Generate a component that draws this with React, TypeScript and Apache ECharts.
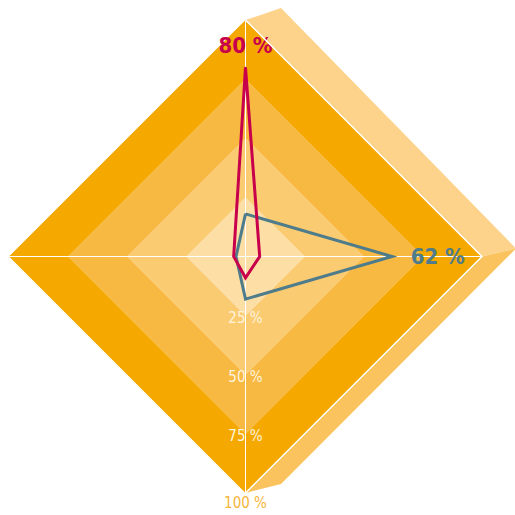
import React, { useEffect, useRef } from "react";
import * as echarts from "echarts";

// Indicators in ECharts order (counter-clockwise from the top): top, left, bottom, right
const indicatorNames = ["A", "B", "C", "D"];
const indicatorMax = [100, 100, 100, 100];
const tickValues = [0, 25, 50, 75, 100];

const seriesRedName = "Rot";
const seriesRedValues = [80, 5, 9, 6];
const seriesGreyName = "Grau";
const seriesGreyValues = [18, 4, 18, 62];

const FONT = '"DejaVu Sans Condensed", "Liberation Sans Narrow", "Roboto", sans-serif';

const CX = 245.5;
const CY = 256.5;
const RAD = 236.5;

export default function App() {
  const ref = useRef<HTMLDivElement>(null);

  useEffect(() => {
    if (!ref.current) return;
    const chart = echarts.init(ref.current, undefined, { renderer: "svg" });

    const T = [CX, CY - RAD];
    const R = [CX + RAD, CY];
    const B = [CX, CY + RAD];
    const T2 = [T[0] + 35.5, T[1] - 12];
    const R2 = [R[0] + 34, R[1] - 8];
    const B2 = [B[0] + 35.5, B[1] - 9];

    const option: any = {
      animation: false,
      backgroundColor: "#ffffff",
      graphic: [
        {
          type: "polygon",
          z: -10,
          shape: { points: [T, T2, R2, R] },
          style: { fill: "#FDD38B" },
          silent: true,
        },
        {
          type: "polygon",
          z: -10,
          shape: { points: [R, R2, B2, B] },
          style: { fill: "#FBC35D" },
          silent: true,
        },
        {
          type: "polyline",
          z: 5,
          shape: { points: [T, R, B] },
          style: { stroke: "#ffffff", lineWidth: 1.5, fill: null },
          silent: true,
        },
      ],
      radar: {
        center: [CX, CY],
        radius: RAD,
        startAngle: 90,
        shape: "polygon",
        splitNumber: tickValues.length - 1,
        axisName: { show: false },
        axisLine: { show: true, lineStyle: { color: "#ffffff", width: 1 } },
        axisTick: { show: false },
        axisLabel: { show: false },
        splitLine: { show: false },
        splitArea: {
          show: true,
          areaStyle: { color: ["#FDDFA6", "#FBCB72", "#F8B942", "#F5A900"] },
        },
        indicator: indicatorNames.map((n, i) => {
          const ind: any = { name: n, min: 0, max: indicatorMax[i] };
          if (i === 2) {
            ind.axisLabel = {
              show: true,
              margin: 0,
              align: "center",
              verticalAlign: "middle",
              color: "#FFF4DC",
              fontFamily: FONT,
              fontSize: 15,
              showMinLabel: false,
              formatter: (v: number) =>
                v === 0 ? "" : v === 100 ? `{o|${v} %}` : `{w|${v} %}`,
              rich: {
                w: { color: "#FFF4DC", fontFamily: FONT, fontSize: 15, padding: [5, 0, 0, 0] },
                o: { color: "#F6B53A", fontFamily: FONT, fontSize: 15, padding: [20, 0, 0, 0] },
              },
            };
          }
          return ind;
        }),
      },
      series: [
        {
          type: "radar",
          z: 3,
          symbol: "circle",
          symbolSize: 1,
          data: [
            {
              name: seriesGreyName,
              value: seriesGreyValues,
              lineStyle: { color: "#4E7C8B", width: 3, join: "miter" },
              itemStyle: { color: "#4E7C8B" },
              label: {
                show: true,
                position: "right",
                distance: 18,
                color: "#4E7C8B",
                fontFamily: FONT,
                fontWeight: "bold",
                fontSize: 22,
                formatter: (p: any) => {
                  const d = p.dimensionIndex;
                  const v = Array.isArray(p.value) ? p.value[d] : p.value;
                  return d === 3 ? `${v} %` : "";
                },
              },
            },
            {
              name: seriesRedName,
              value: seriesRedValues,
              lineStyle: { color: "#C8004B", width: 3, join: "miter" },
              itemStyle: { color: "#C8004B" },
              label: {
                show: true,
                position: "top",
                distance: 10,
                color: "#C8004B",
                fontFamily: FONT,
                fontWeight: "bold",
                fontSize: 22,
                formatter: (p: any) => {
                  const d = p.dimensionIndex;
                  const v = Array.isArray(p.value) ? p.value[d] : p.value;
                  return d === 0 ? `${v} %` : "";
                },
              },
            },
          ],
        },
      ],
    };

    chart.setOption(option);
    return () => chart.dispose();
  }, []);

  return (
    <div
      ref={ref}
      style={{ position: "fixed", left: 0, top: 0, width: 515, height: 515 }}
    />
  );
}
